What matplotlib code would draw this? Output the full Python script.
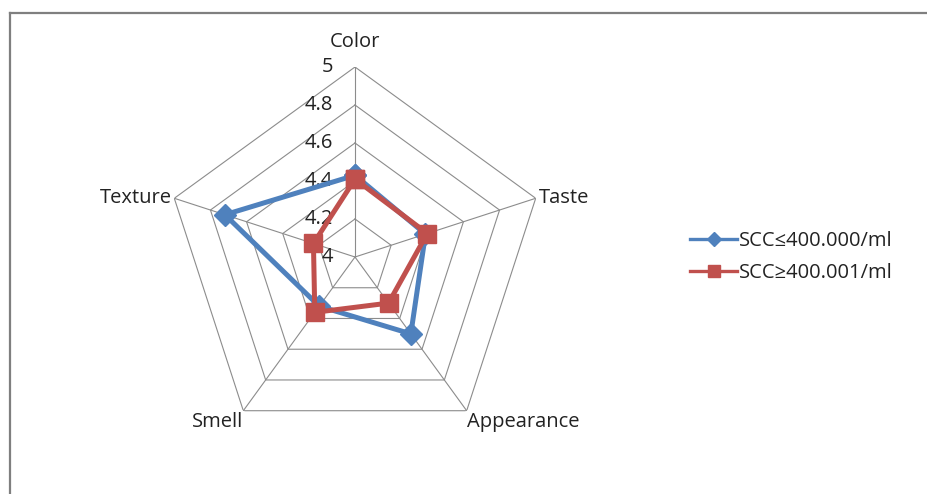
import numpy as np
import matplotlib
matplotlib.use("Agg")
import matplotlib.pyplot as plt
from matplotlib.lines import Line2D

plt.rcParams['font.family'] = ['Open Sans', 'DejaVu Sans']

# Sensory scores per attribute for the two somatic cell count groups
categories = ['Color', 'Taste', 'Appearance', 'Smell', 'Texture']
scc_low = [4.43, 4.39, 4.50, 4.32, 4.72]
scc_high = [4.41, 4.40, 4.30, 4.36, 4.23]
series_labels = ['SCC\u2264400.000/ml', 'SCC\u2265400.001/ml']
r_ticks = [4.0, 4.2, 4.4, 4.6, 4.8, 5.0]
r_tick_labels = ['4', '4.2', '4.4', '4.6', '4.8', '5']

BLUE = '#4F81BD'
RED = '#C0504D'
GRID = '#8C8C8C'
FS = 14.5

W, H = 927, 494
fig = plt.figure(figsize=(W / 100, H / 100), dpi=100)

cx, cy, R = 355, 257, 190
ax = fig.add_axes([(cx - R) / W, (H - cy - R) / H, 2 * R / W, 2 * R / H],
                  projection='polar')
ax.set_theta_offset(np.pi / 2)
ax.set_theta_direction(-1)
ax.set_ylim(r_ticks[0], r_ticks[-1])
ax.grid(False)
ax.spines['polar'].set_visible(False)
ax.set_xticks([])
ax.set_yticks([])
ax.patch.set_alpha(0)

n = len(categories)
theta = np.linspace(0, 2 * np.pi, n, endpoint=False)
theta_closed = np.append(theta, theta[0])

# Pentagonal grid rings and spokes
for r in r_ticks[1:]:
    ax.plot(theta_closed, [r] * (n + 1), color=GRID, lw=0.8, zorder=1)
for t in theta:
    ax.plot([t, t], [r_ticks[0], r_ticks[-1]], color=GRID, lw=0.8, zorder=1)

# Radial value labels along the top spoke
for r, lab in zip(r_ticks, r_tick_labels):
    ax.annotate(lab, xy=(0, r), xytext=(-16, 0), textcoords='offset points',
                ha='right', va='center', fontsize=FS, color='#222222')

# Category labels around the outer ring
label_style = [
    dict(xytext=(0, 11), ha='center', va='bottom'),
    dict(xytext=(2, 0), ha='left', va='center'),
    dict(xytext=(0, -1), ha='left', va='top'),
    dict(xytext=(0, -1), ha='right', va='top'),
    dict(xytext=(-2, 0), ha='right', va='center'),
]
for t, name, st in zip(theta, categories, label_style):
    ax.annotate(name, xy=(t, r_ticks[-1]), textcoords='offset points',
                fontsize=FS, color='#222222', annotation_clip=False, **st)

# Data series
ax.plot(theta_closed, scc_low + scc_low[:1], color=BLUE, lw=3.6,
        marker='D', markersize=11, markerfacecolor=BLUE, markeredgecolor=BLUE,
        label=series_labels[0], zorder=3, clip_on=False)
ax.plot(theta_closed, scc_high + scc_high[:1], color=RED, lw=3.6,
        marker='s', markersize=13, markerfacecolor=RED, markeredgecolor=RED,
        label=series_labels[1], zorder=4, clip_on=False)

leg = fig.legend(loc='center left', bbox_to_anchor=(682 / W, 1 - 257 / H),
                 frameon=False, fontsize=FS, handlelength=2.35,
                 handletextpad=0.1, labelspacing=0.6, markerscale=0.65,
                 borderaxespad=0)
for line in leg.get_lines():
    line.set_linewidth(2.4)
for txt in leg.get_texts():
    txt.set_color('#222222')

# Chart area border (left and top edges)
bx, by = 10 / W, 1 - 13 / H
fig.add_artist(Line2D([bx, bx], [0, by], transform=fig.transFigure,
                      color='#7F7F7F', lw=1.6))
fig.add_artist(Line2D([bx, 1], [by, by], transform=fig.transFigure,
                      color='#7F7F7F', lw=1.6))

fig.savefig('out.png', dpi=100)
